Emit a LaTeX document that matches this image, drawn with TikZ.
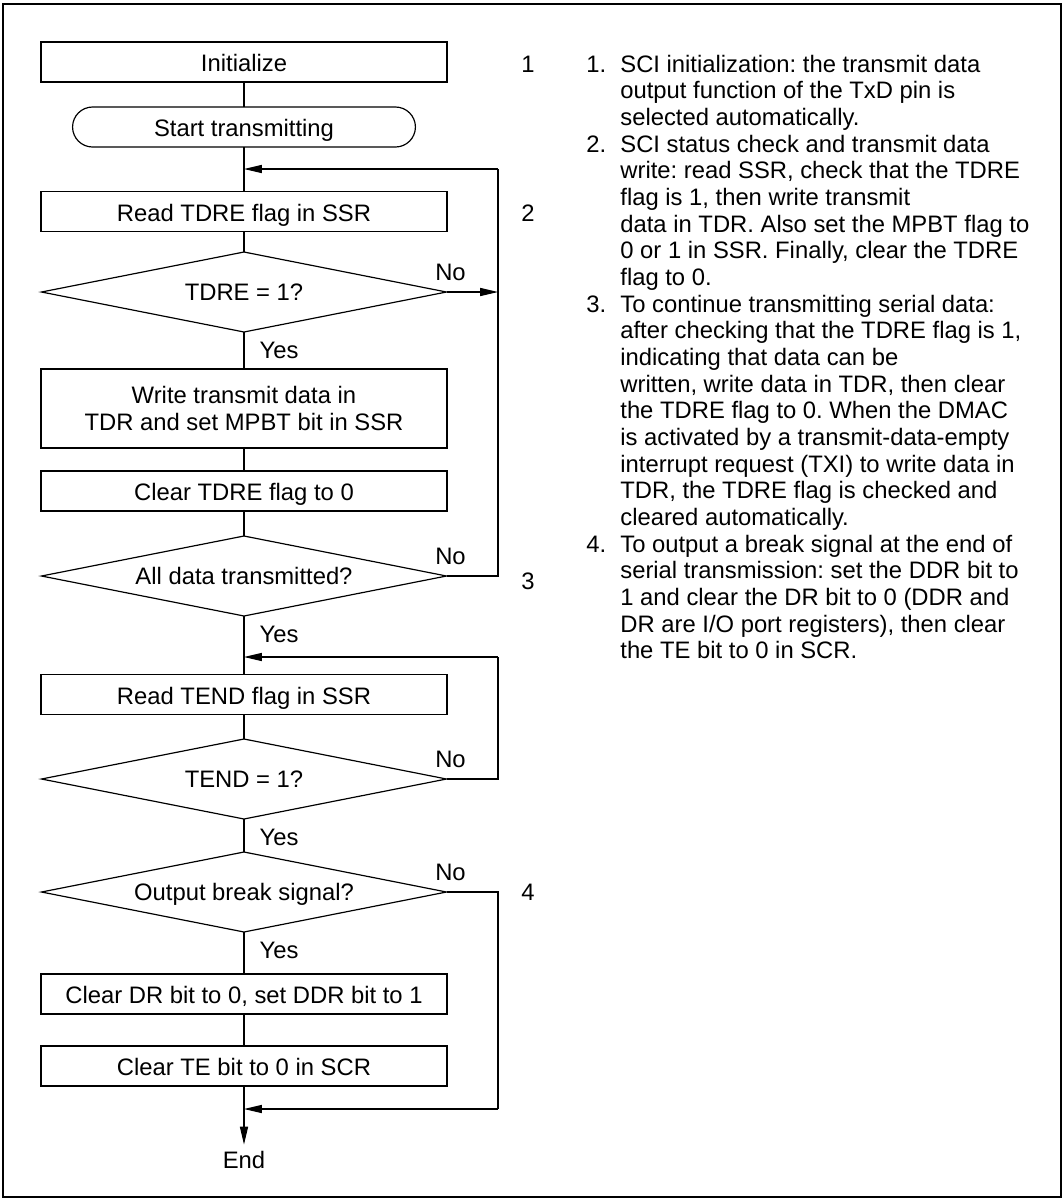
\documentclass[tikz,border=0pt]{standalone}
\usepackage{fontspec}
\setmainfont{Liberation Sans}
\frenchspacing
\usetikzlibrary{positioning,arrows.meta,shapes.geometric}

\begin{document}
\begin{tikzpicture}[x=0.42pt,y=-0.42pt,
  box/.style={
    draw, line width=0.5pt, outer sep=0pt, inner sep=1pt,
    minimum width=170.5pt, minimum height=16.8pt,
    align=center, text depth=0pt
  },
  blk/.style={box, text height=8.2pt},
  term/.style={blk, minimum width=144pt, rounded corners=8.4pt},
  dec/.style={
    draw, diamond, aspect=5, line width=0.5pt, outer sep=0pt,
    inner sep=0pt, minimum width=170.1pt, minimum height=33.6pt,
    text height=7.2pt, text depth=0pt
  },
  num/.style={inner sep=0pt, text height=7.2pt, text depth=0pt},
  ln/.style={line width=0.45pt},
  a/.style={-{Triangle[length=7.5pt,width=3.4pt]}}
]
\useasboundingbox (0,0) rectangle (1064,1199);
\draw[line width=0.8pt] (3,4) rectangle (1061,1197);

% Flow
\node[blk] (init) at (244,62) {Initialize};
\node[term] (start) at (244,127) {Start transmitting};
\node[blk] (rdre) at (244,211.5) {Read TDRE flag in SSR};
\node[dec] (qtdre) at (244,292) {TDRE = 1?};
\node[box,minimum height=33.2pt,font=\fontsize{10}{11.2}\selectfont] (wr) at (244,408.5)
  {Write transmit data in\\TDR and set MPBT bit in SSR};
\node[blk] (clr) at (244,491) {Clear TDRE flag to 0};
\node[dec] (qall) at (244,576) {All data transmitted?};
\node[blk] (rtend) at (244,694.5) {Read TEND flag in SSR};
\node[dec] (qtend) at (244,779) {TEND = 1?};
\node[dec] (qbrk) at (244,892) {Output break signal?};
\node[blk] (cdr) at (244,994) {Clear DR bit to 0, set DDR bit to 1};
\node[blk] (cte) at (244,1066) {Clear TE bit to 0 in SCR};
\node[num,inner sep=2.7pt] (fin) at (244,1160) {End};

% Junctions
\coordinate (m1) at (244,169);
\coordinate (j1) at (498,169);
\coordinate (m2) at (244,657);
\coordinate (j2) at (498,657);
\coordinate (m3) at (244,1109);
\coordinate (j3) at (498,1109);

% Main line
\draw[ln] (init.south)--(start.north);
\draw[ln] (start.south)--(rdre.north);
\draw[ln] (rdre.south)--(qtdre.north);
\draw[ln] (qtdre.south)--(wr.north);
\draw[ln] (wr.south)--(clr.north);
\draw[ln] (clr.south)--(qall.north);
\draw[ln] (qall.south)--(rtend.north);
\draw[ln] (rtend.south)--(qtend.north);
\draw[ln] (qtend.south)--(qbrk.north);
\draw[ln] (qbrk.south)--(cdr.north);
\draw[ln] (cdr.south)--(cte.north);
\draw[ln,a] (cte.south)--(fin.north);

% Loops
\draw[ln,a] (qtdre.east)--(qtdre.east -| j1);
\draw[ln] (qall.east)--(qall.east -| j1)--(j1);
\draw[ln,a] (j1)--(m1);
\draw[ln] (qtend.east)--(qtend.east -| j2)--(j2);
\draw[ln,a] (j2)--(m2);
\draw[ln] (qbrk.east)--(qbrk.east -| j3)--(j3);
\draw[ln,a] (j3)--(m3);

% Yes / No
\node at ([shift={(4,-20)}]qtdre.east) {No};
\node at ([shift={(4,-20)}]qall.east) {No};
\node at ([shift={(4,-20)}]qtend.east) {No};
\node at ([shift={(4,-20)}]qbrk.east) {No};
\node at ([shift={(35,18)}]qtdre.south) {Yes};
\node at ([shift={(35,18)}]qall.south) {Yes};
\node at ([shift={(35,18)}]qtend.south) {Yes};
\node at ([shift={(35,18)}]qbrk.south) {Yes};

% Step numbers
\node[num] (s1) at (528,64) {1};
\node[num] (s2) at (528,213) {2};
\node[num] (s3) at (528,581) {3};
\node[num] (s4) at (528,892) {4};

% Notes
\node[inner sep=0pt,anchor=base west,font=\fontsize{10}{11.2}\selectfont] (notes) at (586,72) {%
\begin{tabular}[t]{@{}r@{\hspace{5.9pt}}l@{}}
1. & SCI initialization: the transmit data\\
   & output function of the TxD pin is\\
   & selected automatically.\\
2. & SCI status check and transmit data\\
   & write: read SSR, check that the TDRE\\
   & flag is 1, then write transmit\\
   & data in TDR. Also set the MPBT flag to\\
   & 0 or 1 in SSR. Finally, clear the TDRE\\
   & flag to 0.\\
3. & To continue transmitting serial data:\\
   & after checking that the TDRE flag is 1,\\
   & indicating that data can be\\
   & written, write data in TDR, then clear\\
   & the TDRE flag to 0. When the DMAC\\
   & is activated by a transmit-data-empty\\
   & interrupt request (TXI) to write data in\\
   & TDR, the TDRE flag is checked and\\
   & cleared automatically.\\
4. & To output a break signal at the end of\\
   & serial transmission: set the DDR bit to\\
   & 1 and clear the DR bit to 0 (DDR and\\
   & DR are I/O port registers), then clear\\
   & the TE bit to 0 in SCR.
\end{tabular}};
\end{tikzpicture}
\end{document}
